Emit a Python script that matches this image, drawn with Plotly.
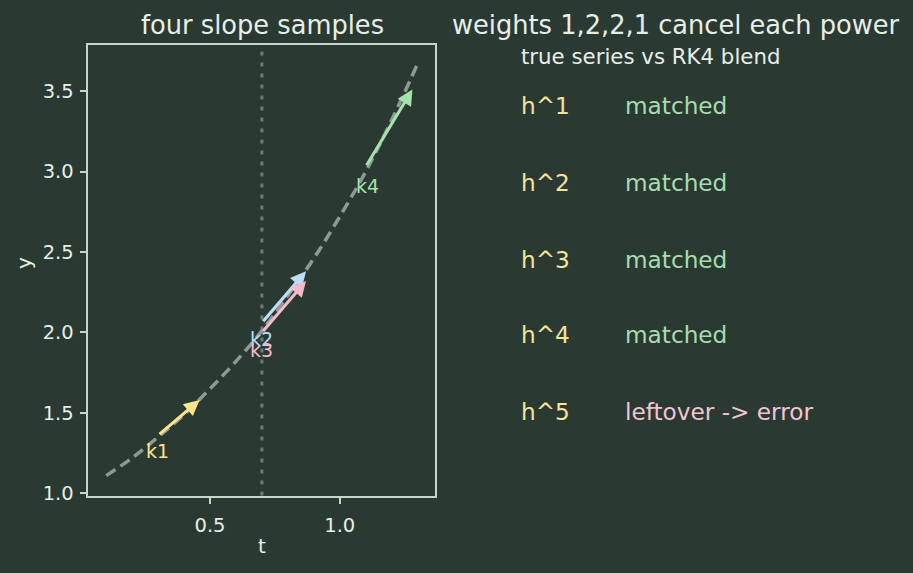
import plotly.graph_objects as go

BG = "#2a3a33"
FG = "#e6eee8"
SPINE = "#c5d6c9"

# curve (true solution)
curve_t = [0.1, 0.2, 0.3, 0.4, 0.5, 0.6, 0.7, 0.8, 0.9, 1.0, 1.1, 1.2, 1.3]
curve_y = [1.11, 1.22, 1.35, 1.49, 1.65, 1.82, 2.01, 2.23, 2.46, 2.72, 3.00, 3.32, 3.67]

# slope arrows
k_names = ["k1", "k2", "k3", "k4"]
k_t0 = [0.30, 0.70, 0.70, 1.10]
k_y0 = [1.36, 2.06, 2.00, 3.03]
k_t1 = [0.46, 0.87, 0.87, 1.28]
k_y1 = [1.58, 2.38, 2.32, 3.51]
k_lab_t = [0.296, 0.70, 0.70, 1.105]
k_lab_y = [1.26, 1.96, 1.89, 2.91]
k_colors = ["#fde38e", "#bcdcf7", "#f8b8cc", "#a6e3ac"]

mid_t = 0.7

# right panel text
powers = ["h^1", "h^2", "h^3", "h^4", "h^5"]
status = ["matched", "matched", "matched", "matched", "leftover -> error"]
status_colors = ["#a6dcae", "#a6dcae", "#a6dcae", "#a6dcae", "#f5c4d2"]
power_color = "#f6e29a"

W, H = 913, 573
HE = 565.0  # effective rendered paper height
x_dom = [88.3 / W, 435 / W]
y_dom = [1 - 497.3 / HE, 1 - 45 / HE]

fig = go.Figure()
fig.add_trace(go.Scatter(
    x=curve_t, y=curve_y, mode="lines",
    line=dict(color="#8d9a92", width=3.5, dash="11px,6px", shape="spline"),
    hoverinfo="skip", showlegend=False))

fig.add_shape(type="line", xref="x", yref="y domain", x0=mid_t, x1=mid_t, y0=0, y1=1,
              line=dict(color="#6a7d72", width=3, dash="4px,7px"), layer="below")

anns = []
for i in range(4):
    anns.append(dict(x=k_t1[i], y=k_y1[i], ax=k_t0[i], ay=k_y0[i], xref="x", yref="y",
                     axref="x", ayref="y", text="", showarrow=True, arrowhead=2,
                     arrowsize=1.0, arrowwidth=3.1, arrowcolor=k_colors[i], standoff=0,
                     startstandoff=0))
for i in range(4):
    anns.append(dict(x=k_lab_t[i], y=k_lab_y[i], xref="x", yref="y", text=k_names[i],
                     showarrow=False, font=dict(size=19, color=k_colors[i],
                                                family="DejaVu Sans"),
                     xanchor="center", yanchor="middle"))

def ptext(x, y, text, size, color, xanchor="left", angle=0):
    return dict(x=x / W, y=1 - y / HE, xref="paper", yref="paper", text=text,
                showarrow=False, font=dict(size=size, color=color, family="DejaVu Sans"),
                xanchor=xanchor, yanchor="middle", textangle=angle)

anns.append(ptext(262, 25, "four slope samples", 25.7, FG, "center"))
anns.append(ptext(262, 548, "t", 20, FG, "center"))
anns.append(ptext(24, 264, "y", 20, FG, "center", -90))
anns.append(ptext(676, 25, "weights 1,2,2,1 cancel each power", 25.7, FG, "center"))
anns.append(ptext(519, 57, "true series vs RK4 blend", 21.3, FG, "left"))
row_y = [106, 183, 260, 336, 413]
for i in range(5):
    anns.append(ptext(519, row_y[i], powers[i], 23.2, power_color, "left"))
    anns.append(ptext(623, row_y[i], status[i], 23.2, status_colors[i], "left"))

axis_common = dict(showgrid=False, zeroline=False, showline=True, mirror=True,
                   linecolor=SPINE, linewidth=1.5, ticks="outside", ticklen=7,
                   tickwidth=1.5, tickcolor=SPINE,
                   tickfont=dict(size=19.5, color=FG, family="DejaVu Sans"))

fig.update_layout(
    width=W, height=H, margin=dict(l=0, r=0, t=0, b=0),
    paper_bgcolor=BG, plot_bgcolor=BG, showlegend=False,
    xaxis=dict(domain=x_dom, range=[0.031, 1.367], tickvals=[0.5, 1.0],
               ticktext=["0.5", "1.0"], ticklabelstandoff=4, **axis_common),
    yaxis=dict(domain=y_dom, range=[0.986, 3.788], tickvals=[1.0, 1.5, 2.0, 2.5, 3.0, 3.5],
               ticktext=["1.0", "1.5", "2.0", "2.5", "3.0", "3.5"], ticklabelstandoff=2,
               **axis_common),
    annotations=anns,
)

fig.write_html("out.html")
